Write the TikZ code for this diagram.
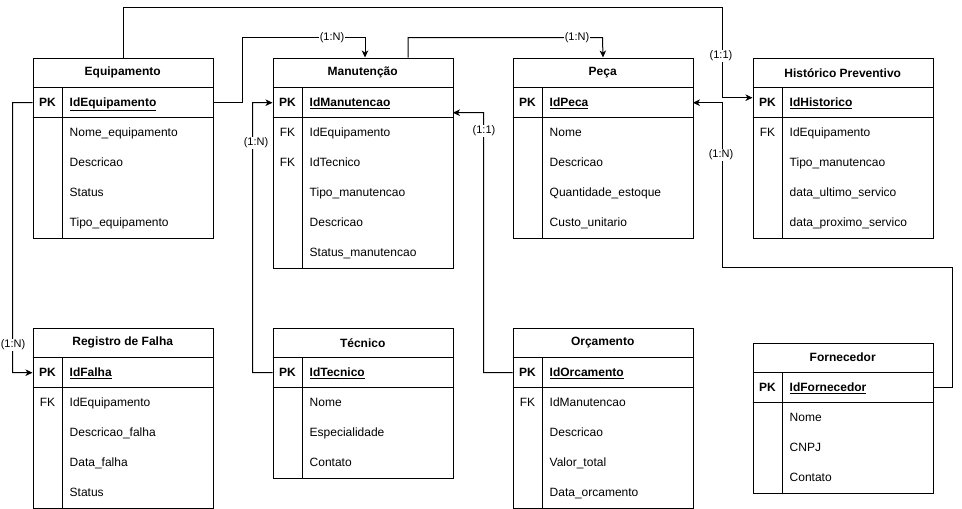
\documentclass[tikz,border=0pt]{standalone}
\usepackage{fontspec}
\setmainfont{Liberation Sans}
\usetikzlibrary{arrows.meta}
\tikzset{
 tbl/.style={draw, line width=1pt, minimum width=180pt, inner sep=0pt, anchor=north west},
 hdr/.style={minimum width=180pt, minimum height=30pt, inner sep=0pt, anchor=north west, font=\fontsize{12}{14}\selectfont\bfseries},
 pkrow/.style={minimum width=180pt, minimum height=30pt, inner sep=0pt, anchor=north west},
 keytxt/.style={inner sep=0pt, text height=8.6pt, text depth=0pt, font=\fontsize{12}{14}\selectfont},
 fldtxt/.style={inner sep=0pt, anchor=west, text height=8.6pt, text depth=0pt, font=\fontsize{12}{14}\selectfont},
 conn/.style={line width=1pt, -{Stealth[length=7pt,width=6.5pt,inset=2pt]}},
 lbl/.style={fill=white, inner sep=1pt, font=\fontsize{11}{13}\selectfont},
}
\newcommand\ertable[7]{%
 \node[tbl, minimum height=#4pt] (#1) at (#2,#3) {};
 \node[hdr] (#1-h) at (#2,#3) {#5};
 \node[pkrow] (#1-pk) at (#2,#3+30) {};
 \draw[line width=1pt] (#1-pk.north west) -- (#1-pk.north east);
 \draw[line width=1pt] (#1-pk.south west) -- (#1-pk.south east);
 \draw[line width=1pt] ([xshift=30pt]#1-pk.north west) -- ([xshift=30pt]#1.south west);
 \node[keytxt, font=\fontsize{12}{14}\selectfont\bfseries] (#1-pkk) at (#2+15,#3+45) {PK};
 \node[fldtxt, font=\fontsize{12}{14}\selectfont\bfseries] (#1-pkf) at (#2+37,#3+45) {\underline{#6}};
 \foreach \k/\f [count=\i] in {#7} {
   \node[keytxt] (#1-k\i) at (#2+15,#3+45+30*\i) {\k};
   \node[fldtxt] (#1-f\i) at (#2+37,#3+45+30*\i) {\f};
 }
}
\begin{document}
\begin{tikzpicture}[x=1pt,y=-1pt]
\useasboundingbox (0,0) rectangle (962,509);
\ertable{equip}{32.5}{57.5}{180}{Equipamento}{IdEquipamento}{{}/Nome\_equipamento, {}/Descricao, {}/Status, {}/Tipo\_equipamento}
\ertable{manut}{272.5}{57.5}{210}{Manutenção}{IdManutencao}{FK/IdEquipamento, FK/IdTecnico, {}/Tipo\_manutencao, {}/Descricao, {}/Status\_manutencao}
\ertable{peca}{512.5}{57.5}{180}{Peça}{IdPeca}{{}/Nome, {}/Descricao, {}/Quantidade\_estoque, {}/Custo\_unitario}
\ertable{hist}{752.5}{57.5}{180}{Histórico Preventivo}{IdHistorico}{FK/IdEquipamento, {}/Tipo\_manutencao, {}/data\_ultimo\_servico, {}/data\_proximo\_servico}
\ertable{falha}{32.5}{327.5}{180}{Registro de Falha}{IdFalha}{FK/IdEquipamento, {}/Descricao\_falha, {}/Data\_falha, {}/Status}
\ertable{tec}{272.5}{327.5}{150}{Técnico}{IdTecnico}{{}/Nome, {}/Especialidade, {}/Contato}
\ertable{orc}{512.5}{327.5}{180}{Orçamento}{IdOrcamento}{FK/IdManutencao, {}/Descricao, {}/Valor\_total, {}/Data\_orcamento}
\ertable{forn}{752.5}{342.5}{150}{Fornecedor}{IdFornecedor}{{}/Nome, {}/CNPJ, {}/Contato}

\coordinate (j1) at (722.5,7.5);
\draw[conn] (equip.north) |- (j1) |- ([yshift=5pt]hist-pk.west);
\node[lbl] (l1) at (721,56) {(1:1)};

\coordinate (j2) at (242.5,37.5);
\draw[conn] (equip-pk.east) -| (j2) -| ([xshift=2pt]manut.north);
\node[lbl] (l2) at (332,37.5) {(1:N)};

\coordinate (j3) at (602.5,37.5);
\draw[conn] ([xshift=45pt]manut.north) |- (j3) -- (peca.north);
\node[lbl] (l3) at (577,37.5) {(1:N)};

\coordinate (j4a) at (952.5,267.5);
\coordinate (j4b) at (722.5,267.5);
\draw[conn] (forn-pk.east) -| (j4a) -- (j4b) |- (peca-pk.east);
\node[lbl] (l4) at (721,155) {(1:N)};

\coordinate (j5) at (12.5,102.5);
\draw[conn] (equip-pk.west) -- (j5) |- (falha-pk.west);
\node[lbl] (l5) at (13,345) {(1:N)};

\coordinate (j6) at (252.5,372.5);
\draw[conn] (tec-pk.west) -- (j6) |- (manut-pk.west);
\node[lbl] (l6) at (256,143) {(1:N)};

\coordinate (j7) at (483.5,372.5);
\draw[conn] (orc-pk.west) -- (j7) |- ([yshift=-10pt]manut-pk.east);
\node[lbl] (l7) at (484,131) {(1:1)};
\end{tikzpicture}
\end{document}
